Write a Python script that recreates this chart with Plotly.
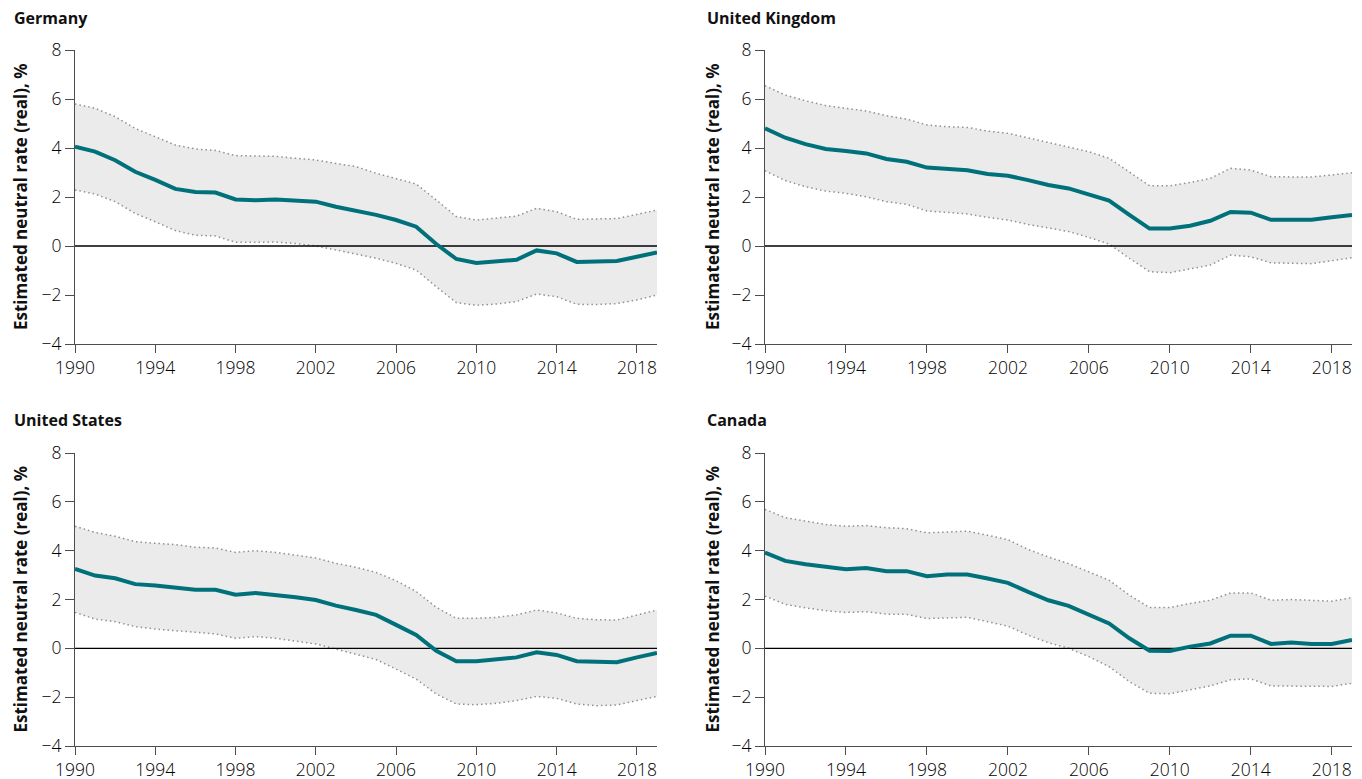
import plotly.graph_objects as go

years = list(range(1990, 2020))
x_ticks = [1990, 1994, 1998, 2002, 2006, 2010, 2014, 2018]
y_ticks = [-4, -2, 0, 2, 4, 6, 8]

countries = ["Germany", "United Kingdom", "United States", "Canada"]

germany_mid = [4.05, 3.85, 3.5, 3.03, 2.7, 2.33, 2.2, 2.18, 1.9, 1.87, 1.9, 1.84, 1.81, 1.6, 1.44,
               1.27, 1.06, 0.79, 0.08, -0.53, -0.69, -0.63, -0.56, -0.18, -0.3, -0.65, -0.65, -0.61, -0.44, -0.26]
germany_hi = [5.8, 5.62, 5.28, 4.8, 4.46, 4.12, 3.96, 3.9, 3.69, 3.66, 3.66, 3.58, 3.51, 3.37, 3.24,
              2.97, 2.76, 2.53, 1.88, 1.2, 1.06, 1.13, 1.22, 1.54, 1.4, 1.09, 1.1, 1.12, 1.29, 1.47]
germany_lo = [2.29, 2.12, 1.81, 1.33, 0.99, 0.63, 0.44, 0.41, 0.15, 0.14, 0.16, 0.1, 0.0, -0.16, -0.33,
              -0.5, -0.71, -0.98, -1.66, -2.31, -2.42, -2.37, -2.27, -1.96, -2.07, -2.38, -2.39, -2.35, -2.2, -2.0]

uk_mid = [4.8, 4.42, 4.16, 3.96, 3.88, 3.78, 3.55, 3.44, 3.2, 3.13, 3.09, 2.94, 2.87, 2.69, 2.49,
          2.35, 2.12, 1.85, 1.27, 0.71, 0.71, 0.83, 1.03, 1.39, 1.36, 1.07, 1.07, 1.07, 1.17, 1.27]
uk_hi = [6.54, 6.16, 5.93, 5.73, 5.62, 5.51, 5.32, 5.18, 4.94, 4.87, 4.84, 4.69, 4.6, 4.42, 4.23,
         4.05, 3.85, 3.58, 3.03, 2.46, 2.46, 2.59, 2.76, 3.17, 3.1, 2.83, 2.82, 2.82, 2.9, 2.99]
uk_lo = [3.07, 2.67, 2.42, 2.24, 2.15, 2.01, 1.81, 1.7, 1.43, 1.36, 1.31, 1.17, 1.06, 0.88, 0.72,
         0.59, 0.35, 0.08, -0.5, -1.05, -1.09, -0.95, -0.78, -0.37, -0.44, -0.69, -0.71, -0.72, -0.6, -0.48]

us_mid = [3.25, 2.98, 2.87, 2.63, 2.57, 2.5, 2.4, 2.4, 2.2, 2.27, 2.2, 2.09, 1.98, 1.75, 1.57,
          1.37, 0.96, 0.55, -0.1, -0.53, -0.53, -0.46, -0.37, -0.16, -0.27, -0.53, -0.57, -0.57, -0.37, -0.19]
us_hi = [5.0, 4.75, 4.59, 4.37, 4.3, 4.25, 4.14, 4.11, 3.93, 4.0, 3.93, 3.82, 3.7, 3.48, 3.32,
         3.11, 2.77, 2.33, 1.68, 1.23, 1.23, 1.27, 1.37, 1.57, 1.45, 1.23, 1.17, 1.16, 1.37, 1.57]
us_lo = [1.47, 1.2, 1.09, 0.89, 0.79, 0.72, 0.63, 0.59, 0.41, 0.48, 0.41, 0.29, 0.18, -0.03, -0.23,
         -0.46, -0.85, -1.26, -1.87, -2.28, -2.31, -2.25, -2.14, -1.97, -2.05, -2.28, -2.35, -2.32, -2.14, -1.97]

canada_mid = [3.92, 3.58, 3.44, 3.33, 3.24, 3.29, 3.16, 3.16, 2.95, 3.02, 3.02, 2.86, 2.68, 2.31, 1.97,
              1.74, 1.39, 1.02, 0.41, -0.1, -0.11, 0.07, 0.2, 0.52, 0.52, 0.18, 0.24, 0.18, 0.18, 0.34]
canada_hi = [5.69, 5.35, 5.21, 5.07, 5.0, 5.03, 4.94, 4.9, 4.73, 4.76, 4.8, 4.63, 4.45, 4.05, 3.74,
             3.47, 3.13, 2.79, 2.18, 1.67, 1.67, 1.84, 1.97, 2.27, 2.27, 1.97, 2.0, 1.97, 1.93, 2.08]
canada_lo = [2.14, 1.8, 1.66, 1.54, 1.47, 1.5, 1.4, 1.39, 1.22, 1.25, 1.27, 1.09, 0.91, 0.54, 0.23,
             0.0, -0.34, -0.75, -1.36, -1.84, -1.86, -1.7, -1.54, -1.29, -1.25, -1.54, -1.54, -1.56, -1.56, -1.43]

series = [
    (germany_mid, germany_hi, germany_lo),
    (uk_mid, uk_hi, uk_lo),
    (us_mid, us_hi, us_lo),
    (canada_mid, canada_hi, canada_lo),
]

W, H = 1362, 779
OFF = 8  # the page body margin shifts the figure by this many pixels
# pixel layout (in the screenshot) of the plot areas: (left, right, top, bottom)
boxes = [(75, 657, 50, 344), (765, 1352, 50, 344), (75, 657, 453, 746), (765, 1352, 453, 746)]
title_pos = [(12, 18), (705, 18), (12, 420), (705, 420)]
ytitle_x = [20, 712]

TEAL = "#00717a"
BAND = "#ebebeb"
DOT = "#909090"
AX = "#4d4d4d"
TICKFONT = dict(family="Open Sans, Lato, sans-serif", size=17.5, color="#000000", weight=300)
BOLDFONT = "Open Sans, Lato, sans-serif"


def px(x):
    return (x - OFF) / W


def py(y):
    return 1 - (y - OFF) / H


fig = go.Figure()
annotations = []
layout = {}
for i, (name, (mid, hi, lo)) in enumerate(zip(countries, series)):
    n = "" if i == 0 else str(i + 1)
    xa, ya = "x" + n, "y" + n
    fig.add_trace(go.Scatter(x=years, y=lo, mode="lines", line=dict(color=DOT, width=1.5, dash="1.5px,3px"),
                             xaxis=xa, yaxis=ya, showlegend=False, hoverinfo="skip"))
    fig.add_trace(go.Scatter(x=years, y=hi, mode="lines", line=dict(color=DOT, width=1.5, dash="1.5px,3px"),
                             fill="tonexty", fillcolor=BAND,
                             xaxis=xa, yaxis=ya, showlegend=False, hoverinfo="skip"))
    fig.add_trace(go.Scatter(x=[1990, 2019], y=[0, 0], mode="lines", line=dict(color="#000000", width=1.3),
                             xaxis=xa, yaxis=ya, showlegend=False, hoverinfo="skip"))
    fig.add_trace(go.Scatter(x=years, y=mid, mode="lines", line=dict(color=TEAL, width=4),
                             xaxis=xa, yaxis=ya, showlegend=False, name=name))
    l, r, t, b = boxes[i]
    layout["xaxis" + n] = dict(
        domain=[px(l), px(r)], anchor=ya, range=[1990, 2019], tickvals=x_ticks,
        showgrid=False, zeroline=False, showline=True, linecolor=AX, linewidth=1.2,
        ticks="outside", ticklen=8, tickwidth=1.2, tickcolor=AX, automargin=False,
        tickfont=TICKFONT, fixedrange=True,
    )
    layout["yaxis" + n] = dict(
        domain=[py(b), py(t)], anchor=xa, range=[-4, 8], tickvals=y_ticks,
        showgrid=False, zeroline=False, showline=True, linecolor=AX, linewidth=1.2,
        ticks="outside", ticklen=9, tickwidth=1.2, tickcolor=AX, automargin=False,
        tickfont=TICKFONT, fixedrange=True,
    )
    tx, ty = title_pos[i]
    annotations.append(dict(text="<b>" + name + "</b>", x=px(tx), y=py(ty), xref="paper", yref="paper",
                            xanchor="left", yanchor="middle", showarrow=False,
                            font=dict(family=BOLDFONT, size=16, color="#111111")))
    annotations.append(dict(text="<b>Estimated neutral rate (real), %</b>", x=px(ytitle_x[i % 2]),
                            y=py((t + b) / 2), xref="paper", yref="paper", textangle=-90,
                            xanchor="center", yanchor="middle", showarrow=False,
                            font=dict(family=BOLDFONT, size=17, color="#111111")))

fig.update_layout(
    width=W, height=H, margin=dict(l=0, r=0, t=0, b=0, autoexpand=False),
    paper_bgcolor="white", plot_bgcolor="white",
    annotations=annotations, **layout,
)
fig.write_html("out.html")
